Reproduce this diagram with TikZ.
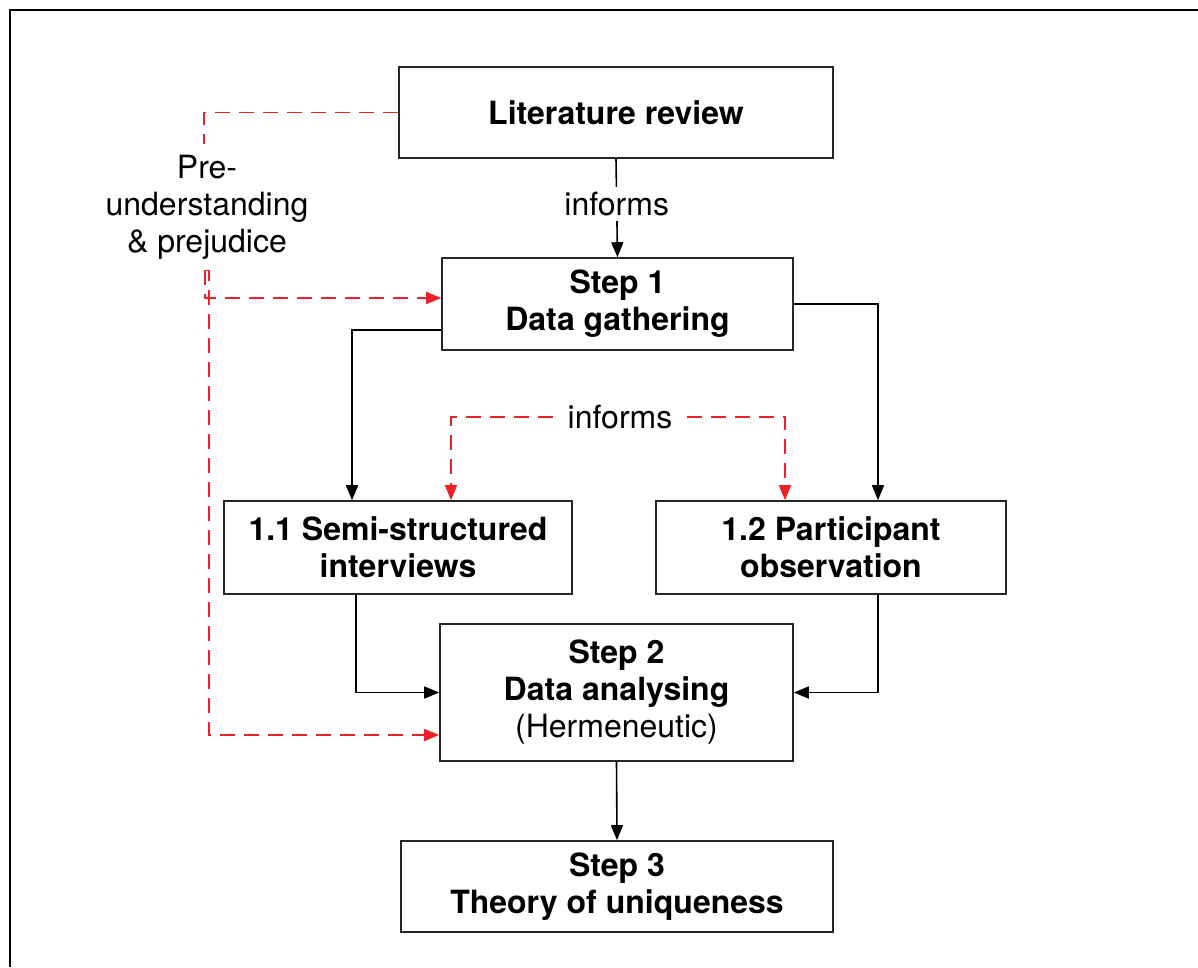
\documentclass[tikz,border=0pt]{standalone}
\usepackage{fontspec}
\setmainfont{TeX Gyre Heros}
\usetikzlibrary{arrows.meta,calc}
\definecolor{flowred}{RGB}{236,32,40}
\begin{document}
\begin{tikzpicture}[x=1pt,y=-1pt,
  every node/.style={font=\fontsize{32}{37}\selectfont, align=center},
  stepbox/.style={draw=black!85, line width=1.6pt, inner sep=0pt},
  conn/.style={draw=black, line width=1.6pt, -{Triangle[length=15pt,width=12pt]}},
  reddash/.style={draw=flowred, line width=1.7pt, dash pattern=on 15pt off 9pt,
    -{Triangle[length=15pt,width=12pt]}},
  reddashplain/.style={draw=flowred, line width=1.7pt, dash pattern=on 15pt off 9pt}]
  % page and frame
  \useasboundingbox (0,0) rectangle (1198,967);
  \draw[line width=2.6pt] (10,967) -- (10,10) -- (1198,10);

  % boxes
  \node[stepbox, minimum width=434pt, minimum height=91pt] (lit) at (616,112.5)
    {\bfseries Literature review};
  \node[stepbox, minimum width=351pt, minimum height=92pt] (s1) at (617.5,304)
    {\bfseries Step 1\\\bfseries Data gathering};
  \node[stepbox, minimum width=348pt, minimum height=93pt] (semi) at (398,547.5)
    {\bfseries 1.1 Semi-structured\\\bfseries interviews};
  \node[stepbox, minimum width=350pt, minimum height=93pt] (part) at (831,547.5)
    {\bfseries 1.2 Participant\\\bfseries observation};
  \node[stepbox, minimum width=353pt, minimum height=137pt] (s2) at (616.5,692.5)
    {\bfseries Step 2\\\bfseries Data analysing\\(Hermeneutic)};
  \node[stepbox, minimum width=432pt, minimum height=91pt] (s3) at (617,886.5)
    {\bfseries Step 3\\\bfseries Theory of uniqueness};

  % labels
  \node[inner xsep=2pt, inner ysep=11pt] (pre) at (207,207) {Pre-\\understanding\\\& prejudice};
  \node[inner sep=0pt, minimum width=134pt, minimum height=30pt] (inf) at (620,417) {informs};

  % black connectors
  \draw[conn] (lit.south) -- node[pos=0.46, fill=white, inner xsep=3pt, inner ysep=5pt] {informs} (s1.north);
  \draw[conn] ($(s1.west)+(0,26)$) -| ($(semi.north)+(-46,0)$);
  \draw[conn] (s1.east) -| ($(part.north)+(47,0)$);
  \draw[conn] ($(semi.south)+(-42,0)$) |- (s2.west);
  \draw[conn] ($(part.south)+(47,0)$) |- (s2.east);
  \draw[conn] (s2.south) -- (s3.north);

  % red dashed influence lines
  \draw[reddashplain] (lit.west) -| ($(pre.north)+(-3,0)$);
  \draw[reddash] ($(pre.south)+(-2,0)$) |- ($(s1.west)+(0,-6)$);
  \draw[reddash] ($(pre.south)+(-2,0)$) -- ($(pre.south)+(2,0)$) |- ($(s2.west)+(0,42.5)$);
  \draw[reddash] (inf.west) -| ($(semi.north)+(53,0)$);
  \draw[reddash] (inf.east) -| ($(part.north)+(-46,0)$);
\end{tikzpicture}
\end{document}
